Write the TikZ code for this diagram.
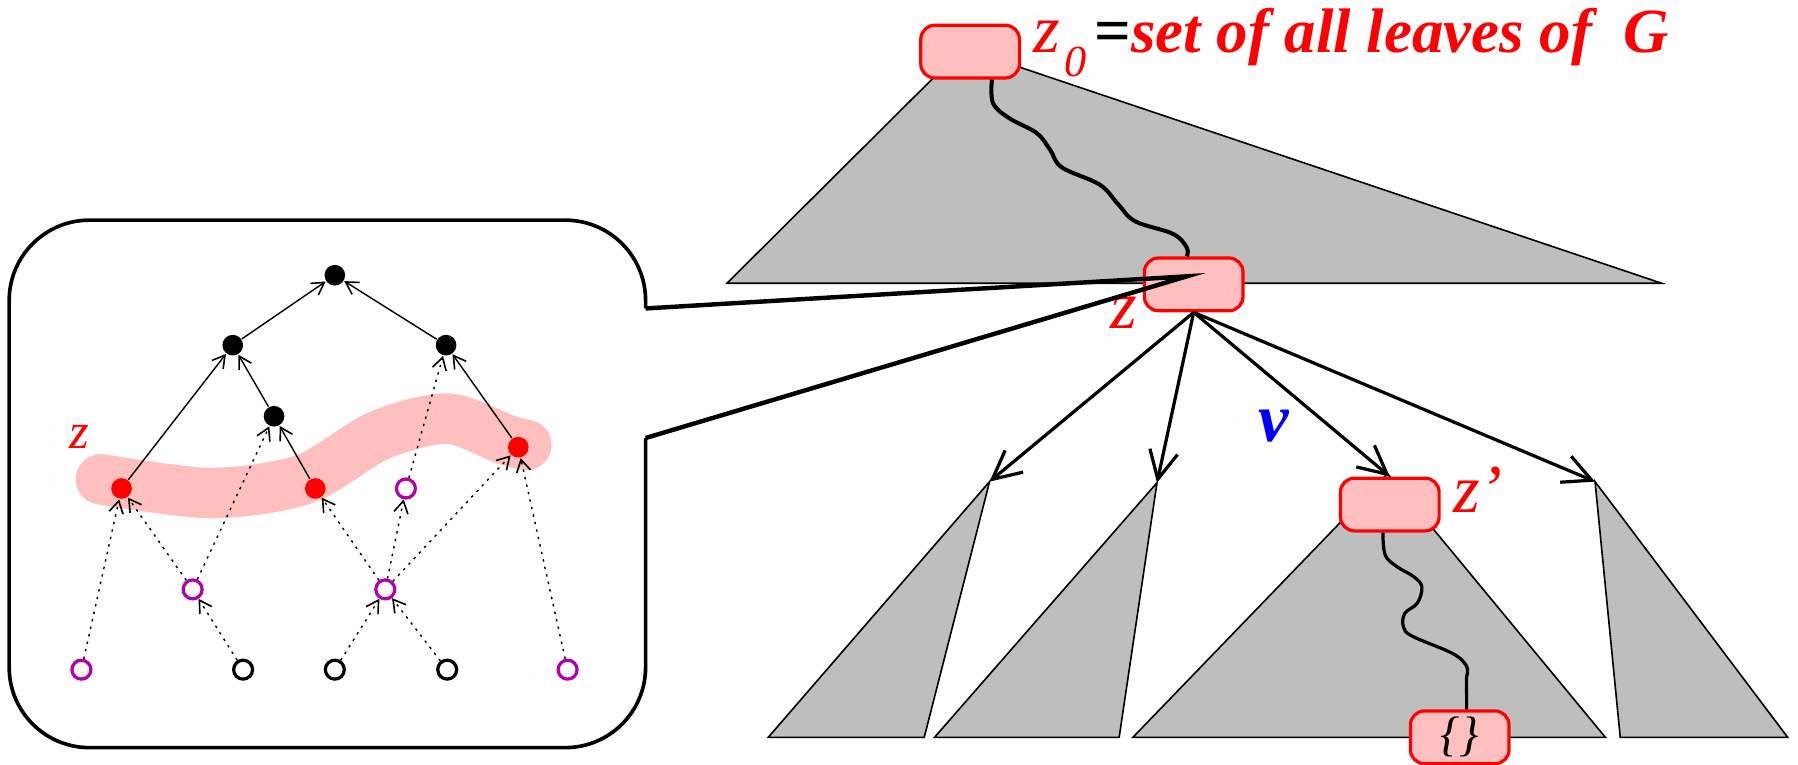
\documentclass[tikz,border=0pt]{standalone}
\usepackage{fontspec}
\setmainfont{Liberation Serif}
\usetikzlibrary{arrows.meta, positioning, calc}

\definecolor{setpink}{RGB}{255,191,191}
\definecolor{treegray}{RGB}{190,190,190}
\definecolor{lilac}{RGB}{176,0,176}

\begin{document}
\begin{tikzpicture}[x=0.01cm, y=-0.01cm,
    setbox/.style={rectangle, draw=red, fill=setpink, line width=0.8pt, rounded corners=3.5pt,
      minimum width=0.86cm, minimum height=0.46cm, inner sep=0pt},
    subtree/.style={draw=black, fill=treegray, line width=0.4pt},
    down/.style={line width=0.8pt, -{Straight Barb[length=7pt, width=7pt, line width=0.8pt]}},
    wave/.style={line width=1pt, line join=round},
    lens/.style={line width=1.1pt},
    zlab/.style={text=red, inner sep=0pt, font=\fontsize{17}{17}\selectfont\itshape},
    dot/.style={circle, fill=#1, minimum size=0.18cm, inner sep=0pt},
    ring/.style={circle, draw=#1, line width=0.8pt, minimum size=0.165cm, inner sep=0pt},
    up/.style={line width=0.35pt, -{Straight Barb[length=3pt, width=3.5pt, line width=0.4pt]}},
    upd/.style={up, dash pattern=on 0.6pt off 1.3pt},
    band/.style={line width=0.44cm, setpink, line cap=round, line join=round}]
  \useasboundingbox (0,0) rectangle (1568,667);

  % subtrees
  \coordinate (t1) at (863,420);
  \coordinate (t2) at (1009,421);
  \coordinate (t4) at (1391,420);
  \path[subtree] (840,42) -- (634,247) -- (1449,247) -- cycle;
  \path[subtree] (t1) -- (670,643) -- (806,643) -- cycle;
  \path[subtree] (t2) -- (815,643) -- (976,643) -- cycle;
  \path[subtree] (1210,413) -- (988,643) -- (1400,643) -- cycle;
  \path[subtree] (t4) -- (1413,643) -- (1559,643) -- cycle;

  % sets on the path
  \node[setbox] (z0) at (846,45) {};
  \node[setbox] (z) at (1041,248) {};
  \node[setbox] (zp) at (1212,440) {};
  \node[setbox] (leaf) at (1273,643) {\fontsize{12}{12}\selectfont\itshape\{\}};

  \draw[wave] plot[smooth, tension=0.6] coordinates {([xshift=0.19cm]z0.south) (866,90) (880,103)
    (904,116) (916,131) (926,146) (959,161) (975,178) (990,193) (1023,204) (1035,216)
    ([xshift=-0.06cm]z.north)};
  \draw[wave, line width=0.8pt] plot[smooth, tension=0.6] coordinates {([xshift=-0.06cm]zp.south)
    (1208,484) (1218,494) (1233,503) (1240,512) (1236,526) (1225,535) (1224,547) (1232,555)
    (1267,570) (1279,581) (1279,590)} -- ([xshift=0.06cm]leaf.north);

  \node[anchor=base west, inner sep=0pt, text=red] (title) at ([xshift=0.1cm, yshift=-0.01cm]z0.east)
    {{\fontsize{17}{17}\selectfont\itshape z}\kern1pt\raisebox{-6pt}{\fontsize{11}{11}\selectfont\itshape 0}%
     \kern2pt{\color{black}\fontsize{16}{16}\selectfont\bfseries =}%
     {\fontsize{15.6}{16}\selectfont\bfseries\itshape set of all leaves of\ \ G}};
  \node[zlab, anchor=east] (zname) at ([xshift=-0.04cm]z.south west) {z};
  \node[zlab, anchor=west] (zpname) at ([xshift=0.1cm, yshift=0.13cm]zp.east) {z’};

  % children of z
  \draw[down] (z.south) -- (t1);
  \draw[down] (z.south) -- (t2);
  \draw[down] (z.south) -- (zp.north);
  \draw[down] (z.south) -- (t4);
  \node[text=blue, inner sep=0pt, font=\fontsize{17}{17}\selectfont\bfseries\itshape] (vname) at (1111,372) {v};

  % magnifier
  \coordinate (lensa) at (563,269);
  \coordinate (lensb) at (563,382);
  \coordinate (focus) at (1035,241);
  \draw[line width=0.9pt, rounded corners=0.7cm] (lensa) -- (563,192) -- (8,192) -- (8,652)
    -- (563,652) -- (lensb);
  \draw[lens] (lensa) -- (focus) -- (lensb);

  % inner graph
  \draw[band] plot[smooth] coordinates {(88,418) (184,430) (265,418) (330,380) (390,365)
    (440,383) (459,388)};
  \node[zlab, font=\fontsize{12.5}{12.5}\selectfont\itshape] (zin) at (69,381) {z};
  \node[dot=black] (r) at (292,240) {};
  \node[dot=black] (a) at (203,301) {};
  \node[dot=black] (b) at (389,301) {};
  \node[dot=black] (c) at (239,363) {};
  \node[dot=red] (d) at (106,426) {};
  \node[dot=red] (e) at (275,426) {};
  \node[dot=red] (f) at (452,390) {};
  \node[ring=lilac] (g) at (354,426) {};
  \node[ring=lilac] (h) at (168,514) {};
  \node[ring=lilac] (i) at (336,514) {};
  \foreach \x/\c [count=\k] in {71/lilac, 212/black, 292/black, 390/black, 495/lilac}
    \node[ring=\c] (l\k) at (\x,584) {};

  \foreach \s/\t in {a/r, b/r, d/a, c/a, e/c, f/b}
    \draw[up] (\s) -- (\t);
  \foreach \s/\t in {g/b, h/c, h/d, l1/d, l2/h, i/e, i/g, i/f, l3/i, l4/i, l5/f}
    \draw[upd] (\s) -- (\t);
\end{tikzpicture}
\end{document}
